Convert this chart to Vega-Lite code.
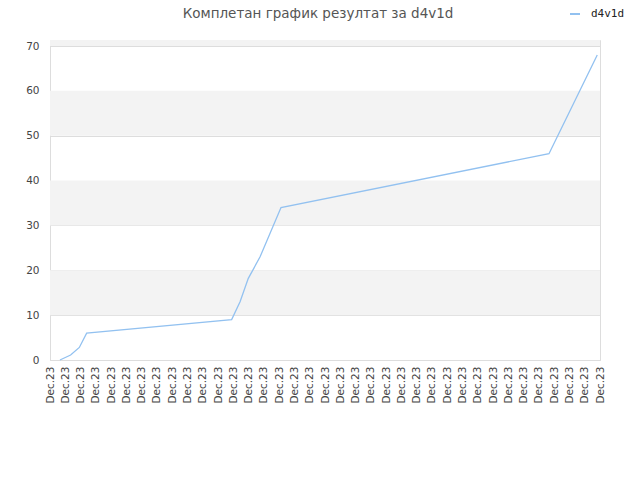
{
  "$schema": "https://vega.github.io/schema/vega-lite/v6.json",
  "description": "Cumulative result line for d4v1d over December 2023.",
  "autosize": "none",
  "width": 550,
  "height": 320,
  "padding": {"left": 50, "top": 40, "right": 40, "bottom": 120},
  "background": "white",
  "title": {
    "text": "Комплетан график резултат за d4v1d",
    "font": "DejaVu Sans",
    "fontSize": 13.5,
    "fontWeight": "normal",
    "color": "#555555",
    "anchor": "middle",
    "frame": "group",
    "dx": -7,
    "offset": -12
  },
  "datasets": {
    "bands": [
      {"lo": 10, "hi": 20},
      {"lo": 30, "hi": 40},
      {"lo": 50, "hi": 60},
      {"lo": 70, "hi": 71.34}
    ],
    "scores": [
      {"t": 0.65, "score": 0, "player": "d4v1d"},
      {"t": 1.35, "score": 1.1, "player": "d4v1d"},
      {"t": 1.92, "score": 2.8, "player": "d4v1d"},
      {"t": 2.4, "score": 6.0, "player": "d4v1d"},
      {"t": 11.89, "score": 9.0, "player": "d4v1d"},
      {"t": 12.44, "score": 13.0, "player": "d4v1d"},
      {"t": 12.98, "score": 18.2, "player": "d4v1d"},
      {"t": 13.75, "score": 23.0, "player": "d4v1d"},
      {"t": 15.12, "score": 34.0, "player": "d4v1d"},
      {"t": 32.66, "score": 46.0, "player": "d4v1d"},
      {"t": 35.82, "score": 68.0, "player": "d4v1d"}
    ]
  },
  "layer": [
    {
      "data": {"name": "bands"},
      "mark": {"type": "rect", "color": "#f3f3f3"},
      "encoding": {
        "y": {"field": "lo", "type": "quantitative", "scale": {"domain": [0, 71.34], "nice": false, "zero": true}},
        "y2": {"field": "hi"}
      }
    },
    {
      "data": {"name": "scores"},
      "mark": {"type": "line", "strokeWidth": 1.3, "interpolate": "linear"},
      "encoding": {
        "x": {
          "field": "t",
          "type": "quantitative",
          "scale": {"domain": [0, 36], "nice": false, "zero": false},
          "axis": {
            "title": null,
            "values": [0,1,2,3,4,5,6,7,8,9,10,11,12,13,14,15,16,17,18,19,20,21,22,23,24,25,26,27,28,29,30,31,32,33,34,35,36],
            "labelExpr": "'Dec.23'",
            "labelAngle": 270,
            "labelAlign": "right",
            "labelBaseline": "middle",
            "labelPadding": 6,
            "labelFont": "DejaVu Sans",
            "labelFontSize": 10.5,
            "labelColor": "#444444",
            "labelOverlap": false,
            "labelFlush": false,
            "ticks": false,
            "grid": false,
            "domainColor": "#dddddd"
          }
        },
        "y": {
          "field": "score",
          "type": "quantitative",
          "scale": {"domain": [0, 71.34], "nice": false, "zero": true},
          "axis": {
            "title": null,
            "values": [0, 10, 20, 30, 40, 50, 60, 70],
            "labelFont": "DejaVu Sans",
            "labelFontSize": 10.5,
            "labelColor": "#444444",
            "labelPadding": 11,
            "ticks": false,
            "grid": true,
            "gridColor": "#dddddd",
            "domainColor": "#dddddd"
          }
        },
        "color": {
          "field": "player",
          "type": "nominal",
          "scale": {"range": ["#92c1f0"]},
          "legend": {
            "title": null,
            "orient": "none",
            "legendX": 519,
            "legendY": -32,
            "symbolType": "stroke",
            "symbolSize": 100,
            "symbolStrokeWidth": 2,
            "labelOffset": 10,
            "labelFont": "DejaVu Sans Mono",
            "labelFontSize": 11,
            "labelColor": "#222222"
          }
        }
      }
    }
  ],
  "config": {
    "view": {"stroke": "#dddddd"}
  }
}
